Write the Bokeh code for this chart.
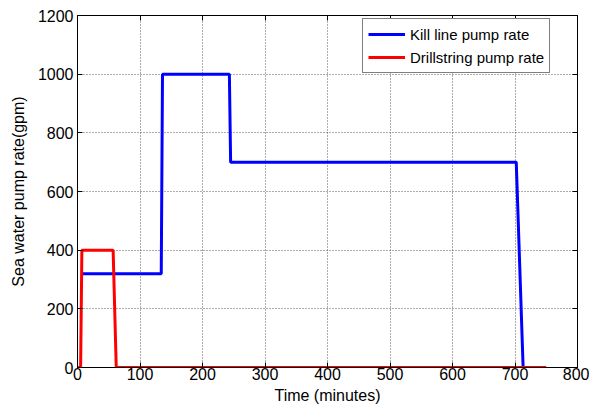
from bokeh.plotting import figure
from bokeh.models import LinearAxis, Range1d, Legend, LegendItem, FixedTicker
from bokeh.embed import file_html
from bokeh.resources import INLINE

# Data (time in minutes, rate in gpm)
kill_t = [7, 134, 136, 243, 245, 702, 713]
kill_rate = [320, 320, 1000, 1000, 700, 700, 0]
drill_t = [0, 5, 7, 57, 62, 750]
drill_rate = [0, 0, 400, 400, 0, 0]

x_ticks = [0, 100, 200, 300, 400, 500, 600, 700, 800]
y_ticks = [0, 200, 400, 600, 800, 1000, 1200]

FONT = "Liberation Sans"

p = figure(width=589, height=409, output_backend="svg", toolbar_location=None,
           x_range=Range1d(0, 800), y_range=Range1d(0, 1200),
           min_border_left=77, min_border_right=12, min_border_top=15, min_border_bottom=42)
p.background_fill_color = "white"
p.border_fill_color = "white"
p.outline_line_color = "black"
p.outline_line_width = 1

for ax in [p.xaxis[0], p.yaxis[0]]:
    ax.major_tick_in = 5
    ax.major_tick_out = 0
    ax.minor_tick_in = 0
    ax.minor_tick_out = 0
    ax.axis_line_color = "black"
    ax.major_tick_line_color = "black"
    ax.major_label_text_font = FONT
    ax.major_label_text_font_size = "16px"
    ax.major_label_text_color = "black"
    ax.axis_label_text_font = FONT
    ax.axis_label_text_font_size = "16px"
    ax.axis_label_text_font_style = "normal"
    ax.axis_label_text_color = "black"

p.xaxis.ticker = FixedTicker(ticks=x_ticks)
p.yaxis.ticker = FixedTicker(ticks=y_ticks)
p.xaxis.axis_label = "Time (minutes)"
p.yaxis.axis_label = "Sea water pump rate(gpm)"
p.xaxis.major_label_standoff = 0
p.xaxis.axis_label_standoff = 4
p.yaxis.major_label_standoff = 4
p.yaxis.axis_label_standoff = 8

for loc, ticks in [("right", y_ticks), ("above", x_ticks)]:
    a = LinearAxis(ticker=FixedTicker(ticks=ticks))
    a.major_tick_in = 5
    a.major_tick_out = 0
    a.minor_tick_in = 0
    a.minor_tick_out = 0
    a.major_label_overrides = {t: "" for t in ticks}
    a.major_label_standoff = 0
    a.axis_line_color = "black"
    p.add_layout(a, loc)

p.xgrid.ticker = FixedTicker(ticks=x_ticks)
p.ygrid.ticker = FixedTicker(ticks=y_ticks)
for g in [p.xgrid[0], p.ygrid[0]]:
    g.grid_line_color = "#222222"
    g.grid_line_dash = "1 2"
    g.grid_line_alpha = 0.75
    g.grid_line_width = 1

r1 = p.line(kill_t, kill_rate, line_color="#0000ff", line_width=3)
r2 = p.line(drill_t, drill_rate, line_color="#ff0000", line_width=3)

legend = Legend(items=[LegendItem(label="Kill line pump rate", renderers=[r1]),
                       LegendItem(label="Drillstring pump rate", renderers=[r2])],
                location=(285, 294))
legend.label_text_font = FONT
legend.label_text_font_size = "15px"
legend.label_text_color = "black"
legend.glyph_width = 37
legend.glyph_height = 20
legend.label_height = 20
legend.label_standoff = 5
legend.spacing = 3
legend.padding = 5
legend.margin = 0
legend.border_line_color = "black"
legend.border_line_width = 1
legend.background_fill_color = "white"
legend.background_fill_alpha = 1
p.add_layout(legend, "center")

open("out.html", "w").write(file_html(p, INLINE))
